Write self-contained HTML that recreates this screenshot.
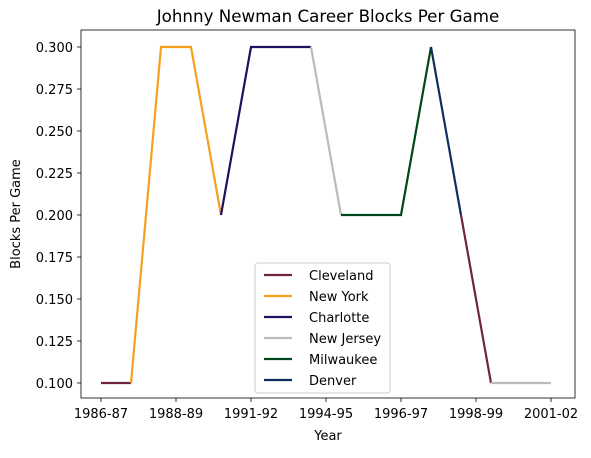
<!DOCTYPE html>
<html><head><meta charset="utf-8"><style>
body{margin:0;background:#fff;}
svg{font-family:"DejaVu Sans","Liberation Sans",sans-serif;}
</style></head><body>
<svg id="c" width="591" height="453" viewBox="0 0 591 453">
<rect width="591" height="453" fill="#fff"/>
<text x="328" y="22" font-size="16.7" text-anchor="middle">Johnny Newman Career Blocks Per Game</text>
<g id="grid"></g>
<g id="lines"></g>
<rect x="81" y="30" width="494" height="368" fill="none" stroke="#000" stroke-width="0.8"/>
<text x="328" y="440" font-size="13" text-anchor="middle">Year</text>
<text x="20" y="214" font-size="13" text-anchor="middle" transform="rotate(-90 20 214)">Blocks Per Game</text>
<g id="legend"></g>
</svg>
<script>
const seasons=["1986-87","1987-88","1988-89","1989-90","1990-91","1991-92","1992-93","1993-94","1994-95","1995-96","1996-97","1997-98","1998-99","1999-00","2000-01","2001-02"];
const blocks=[0.1,0.1,0.3,0.3,0.2,0.3,0.3,0.3,0.2,0.2,0.2,0.3,0.2,0.1,0.1,0.1];
const teams=["Cleveland","New York","Charlotte","New Jersey","Milwaukee","Denver"];
const teamColors=["#6F263D","#F5A01E","#1D1160","#BBBBBB","#00471B","#0E2F5E"];
const segTeam=["Cleveland","New York","Charlotte","New Jersey","Milwaukee","Denver","Cleveland","New Jersey"];
const segStart=[0,1,4,7,8,11,12,13];
const segEnd=[1,4,7,8,11,12,13,15];
const xTickPos=[0,2.5,5,7.5,10,12.5,15];
const xTickLabels=["1986-87","1988-89","1991-92","1994-95","1996-97","1998-99","2001-02"];
const yTicks=[0.1,0.125,0.15,0.175,0.2,0.225,0.25,0.275,0.3];
const NS="http://www.w3.org/2000/svg";
const X=i=>101+i*30;
const Y=v=>383-(v-0.1)*1680;
function mk(t,a,p){const e=document.createElementNS(NS,t);for(const k in a)e.setAttribute(k,a[k]);p.appendChild(e);return e;}
const grid=document.getElementById('grid');
xTickPos.forEach((p,i)=>{
 const t=mk('line',{x1:X(p),x2:X(p),y1:398,y2:402,stroke:'#000','stroke-width':0.8},grid);
 
 
 const l=mk('text',{x:X(p),y:418,'font-size':13,'text-anchor':'middle'},grid);l.textContent=xTickLabels[i];
 
 
});
yTicks.forEach(v=>{
 const t=mk('line',{x1:77,x2:81,y1:Y(v),y2:Y(v),stroke:'#000','stroke-width':0.8},grid);
 
 
 const l=mk('text',{x:73,y:Y(v)+5,'font-size':13,'text-anchor':'end'},grid);l.textContent=v.toFixed(3);
 
 
});
const lines=document.getElementById('lines');
segTeam.forEach((tm,s)=>{
 const pts=[];for(let i=segStart[s];i<=segEnd[s];i++)pts.push(X(i)+','+Y(blocks[i]));
 const pl=mk('polyline',{points:pts.join(' '),fill:'none',stroke:teamColors[teams.indexOf(tm)],'stroke-width':2.2},lines);
 
 
});
const lg=document.getElementById('legend');
const box=mk('rect',{x:255,y:263,width:135,height:130,rx:3,fill:'#fff',stroke:'#ccc','stroke-width':1},lg);


teams.forEach((tm,i)=>{
 const y=275+i*21;
 const ln=mk('line',{x1:264,x2:292,y1:y,y2:y,stroke:teamColors[i],'stroke-width':2.2},lg);
 
 
 const t=mk('text',{x:309,y:y+5,'font-size':13},lg);t.textContent=tm;
 
 
});
</script>
</body></html>
